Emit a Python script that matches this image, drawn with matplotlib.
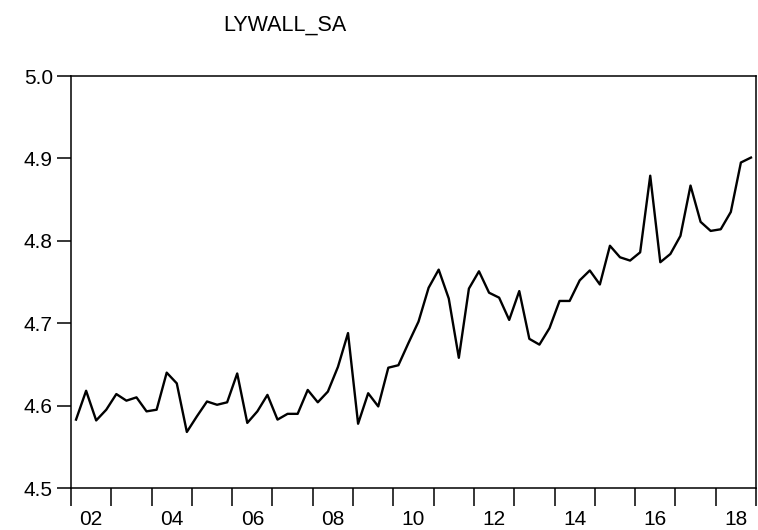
import matplotlib.pyplot as plt
import numpy as np

# quarterly series, 2002Q1 .. 2018Q4
start_year = 2002
values = [
    4.583, 4.618, 4.582, 4.595, 4.614, 4.606, 4.610, 4.593,
    4.595, 4.640, 4.627, 4.568, 4.587, 4.605, 4.601, 4.604,
    4.639, 4.579, 4.593, 4.613, 4.583, 4.590, 4.590, 4.619,
    4.604, 4.617, 4.647, 4.688, 4.578, 4.615, 4.599, 4.646,
    4.649, 4.676, 4.702, 4.743, 4.765, 4.730, 4.658, 4.742,
    4.763, 4.737, 4.731, 4.704, 4.739, 4.681, 4.674, 4.694,
    4.727, 4.727, 4.752, 4.764, 4.747, 4.794, 4.780, 4.776,
    4.786, 4.879, 4.774, 4.784, 4.806, 4.867, 4.823, 4.812,
    4.814, 4.835, 4.895, 4.901,
]
yticks = [4.5, 4.6, 4.7, 4.8, 4.9, 5.0]
label_years = list(range(2002, 2019, 2))
title = "LYWALL_SA"

plt.rcParams['font.family'] = ['Liberation Sans', 'DejaVu Sans']

t = start_year + np.arange(len(values)) / 4 + 0.125

fig = plt.figure(figsize=(7.58, 5.30), dpi=100)
ax = fig.add_axes([71 / 758, 1 - 488 / 530, 685 / 758, 412 / 530])
ax.plot(t, values, color='black', lw=1.7)

ax.set_xlim(start_year, start_year + len(values) / 4)
ax.set_ylim(4.5, 5.0)

ax.set_yticks(yticks)
ax.set_yticklabels([f"{v:.1f}" for v in yticks])
ax.set_xticks(range(start_year, start_year + len(values) // 4 + 1))
ax.set_xticklabels([])
ax.set_xticks([y + 0.5 for y in label_years], minor=True)
ax.set_xticklabels([f"{y % 100:02d}" for y in label_years], minor=True)

ax.tick_params(axis='both', which='major', direction='out', length=10,
               width=1.1, color='black', labelsize=15)
ax.tick_params(axis='x', which='major', length=13)
ax.tick_params(axis='x', which='minor', length=0, labelsize=15, pad=16)
ax.tick_params(axis='y', pad=3)

for s in ax.spines.values():
    s.set_linewidth(1.1)
    s.set_color('black')

fig.text(285 / 758, 1 - 25 / 530, title, ha='center', va='center',
         fontsize=15.5)

fig.savefig('out.png', dpi=100)
